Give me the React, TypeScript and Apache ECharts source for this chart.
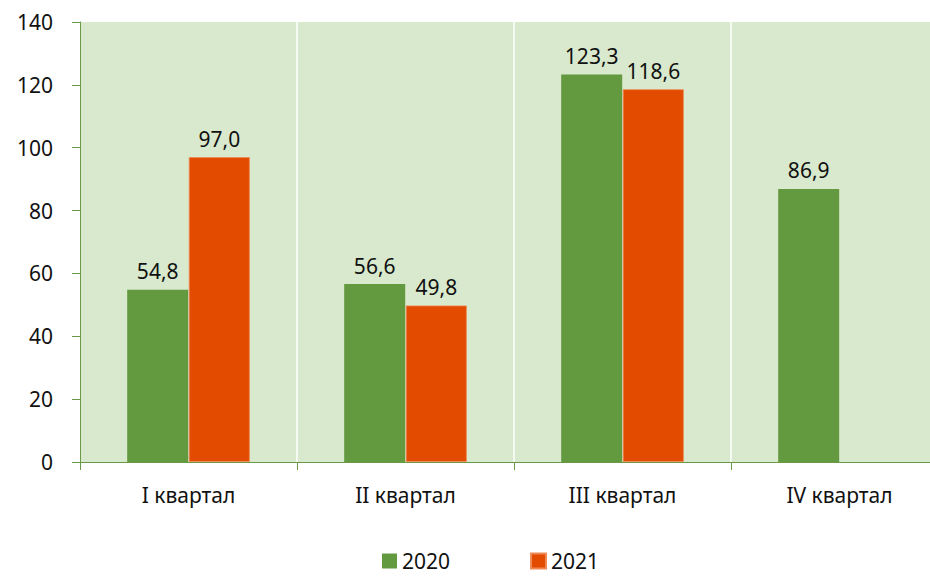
import React, { useEffect, useRef } from "react";
import * as echarts from "echarts";

const categories = ["I квартал", "II квартал", "III квартал", "IV квартал"];
const series2020 = [54.8, 56.6, 123.3, 86.9];
const series2021: (number | null)[] = [97.0, 49.8, 118.6, null];
const yTicks = { min: 0, max: 140, interval: 20 };

const FONT = "'Noto Sans', sans-serif";

export default function App() {
  const ref = useRef<HTMLDivElement>(null);
  useEffect(() => {
    if (!ref.current) return;
    const chart = echarts.init(ref.current, null, { renderer: "svg" });
    const fmt = (p: any) =>
      p.value == null ? "" : Number(p.value).toFixed(1).replace(".", ",");
    chart.setOption({
      animation: false,
      textStyle: { fontFamily: FONT },
      grid: {
        left: 80,
        right: 0,
        top: 22,
        bottom: 117,
        show: true,
        backgroundColor: "#d8e9cd",
        borderWidth: 0,
      },
      legend: {
        top: 548,
        left: 382,
        padding: 0,
        itemWidth: 15,
        itemHeight: 15,
        itemGap: 80,
        icon: "rect",
        textStyle: { fontSize: 21, color: "#111", fontFamily: FONT, lineHeight: 26 },
        data: ["2020", "2021"],
      },
      xAxis: {
        type: "category",
        data: categories,
        axisLine: { show: true, lineStyle: { color: "#6a9a48", width: 1 } },
        axisTick: { show: true, alignWithLabel: false, length: 8, lineStyle: { color: "#6a9a48" } },
        axisLabel: { color: "#111", fontSize: 21, margin: 22, fontFamily: FONT },
        splitLine: { show: true, lineStyle: { color: "#ffffff", width: 1.5 } },
      },
      yAxis: {
        type: "value",
        min: yTicks.min,
        max: yTicks.max,
        interval: yTicks.interval,
        axisLine: { show: true, lineStyle: { color: "#6a9a48", width: 1 } },
        axisTick: { show: true, length: 8, lineStyle: { color: "#6a9a48" } },
        axisLabel: { color: "#111", fontSize: 21, margin: 27, fontFamily: FONT },
        splitLine: { show: false },
      },
      series: [
        {
          name: "2020",
          type: "bar",
          data: series2020,
          barWidth: 61,
          barGap: "1%",
          itemStyle: { color: "#63993f" },
          label: {
            show: true,
            position: "top",
            distance: 8,
            formatter: fmt,
            fontSize: 21,
            color: "#111",
            fontFamily: FONT,
          },
        },
        {
          name: "2021",
          type: "bar",
          data: series2021,
          barWidth: 61,
          itemStyle: { color: "#e34b00", borderColor: "#ef8a55", borderWidth: 0.8 },
          label: {
            show: true,
            position: "top",
            distance: 8,
            formatter: fmt,
            fontSize: 21,
            color: "#111",
            fontFamily: FONT,
          },
        },
      ],
    });
    return () => chart.dispose();
  }, []);
  return (
    <div style={{ width: 930, height: 579, position: "absolute", left: 0, top: 0, overflow: "hidden" }}>
      <div ref={ref} style={{ width: 948, height: 579, position: "absolute", left: 0, top: 0 }} />
    </div>
  );
}
